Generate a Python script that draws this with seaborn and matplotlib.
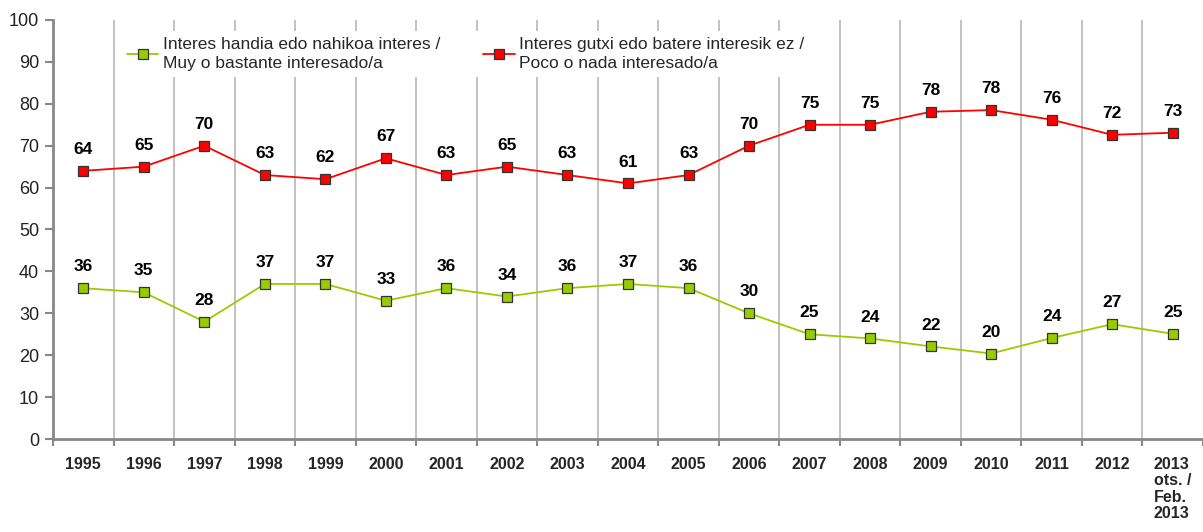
import numpy as np
import pandas as pd
import seaborn as sns
import matplotlib.pyplot as plt
from matplotlib.ticker import MultipleLocator, FixedLocator

years = ["1995", "1996", "1997", "1998", "1999", "2000", "2001", "2002", "2003",
         "2004", "2005", "2006", "2007", "2008", "2009", "2010", "2011", "2012",
         "2013\nots. /\nFeb.\n2013"]
high_interest = [36, 35, 28, 37, 37, 33, 36, 34, 36, 37, 36, 30, 25, 24, 22.1, 20.4, 24.1, 27.4, 25.1]
low_interest = [64, 65, 70, 63, 62, 67, 63, 65, 63, 61, 63, 70, 75, 75, 78.1, 78.5, 76.2, 72.6, 73.1]
high_labels = [36, 35, 28, 37, 37, 33, 36, 34, 36, 37, 36, 30, 25, 24, 22, 20, 24, 27, 25]
low_labels = [64, 65, 70, 63, 62, 67, 63, 65, 63, 61, 63, 70, 75, 75, 78, 78, 76, 72, 73]
name_high = "Interes handia edo nahikoa interes /\nMuy o bastante interesado/a"
name_low = "Interes gutxi edo batere interesik ez /\nPoco o nada interesado/a"

sns.set_theme(style="white")
plt.rcParams["font.family"] = ["Liberation Sans", "DejaVu Sans"]

df = pd.DataFrame({"pos": np.arange(len(years)), "high": high_interest, "low": low_interest})

fig = plt.figure(figsize=(12.03, 5.32), dpi=100)
ax = fig.add_axes([53 / 1203, 1 - 439 / 532, 1 - 53 / 1203, (439 - 20) / 532])

green = "#99CC00"
red = "#FF0000"
sns.lineplot(data=df, x="pos", y="high", color=green, marker="s", markersize=6.8,
             markerfacecolor=green, markeredgecolor="#333333", markeredgewidth=0.9,
             linewidth=1.3, label=name_high, ax=ax)
sns.lineplot(data=df, x="pos", y="low", color=red, marker="s", markersize=6.8,
             markerfacecolor=red, markeredgecolor="#333333", markeredgewidth=0.9,
             linewidth=1.3, label=name_low, ax=ax)

for i in range(len(years)):
    ax.annotate(str(high_labels[i]), (i, high_interest[i]), xytext=(0, 10),
                textcoords="offset points", ha="center", va="bottom",
                fontsize=12.5, fontweight="bold", color="black")
    ax.annotate(str(low_labels[i]), (i, low_interest[i]), xytext=(0, 10),
                textcoords="offset points", ha="center", va="bottom",
                fontsize=12.5, fontweight="bold", color="black")

ax.set_xlim(-0.5, len(years) - 0.5)
ax.set_ylim(0, 100)
ax.yaxis.set_major_locator(MultipleLocator(10))
ax.set_xticks(np.arange(len(years)))
ax.set_xticklabels(years, fontsize=11.5, fontweight="bold", va="top", linespacing=1.12)
ax.xaxis.set_minor_locator(FixedLocator(np.arange(-0.5, len(years), 1.0)))
ax.tick_params(axis="x", which="major", length=0, pad=13)
ax.tick_params(axis="x", which="minor", length=5, width=1.5, color="#888888", direction="out", bottom=True)
ax.tick_params(axis="y", which="major", length=6, width=1.5, color="#888888", direction="out",
               left=True, labelsize=13, labelcolor="#222222", pad=4)
last = ax.get_xticklabels()[-1]
last.set_horizontalalignment("center")
last.set_multialignment("left")

for b in np.arange(0.5, len(years) - 0.5, 1.0):
    ax.axvline(b, color="#b8b8b8", linewidth=1.2, zorder=0)

for s in ["top", "right"]:
    ax.spines[s].set_visible(False)
for s in ["left", "bottom"]:
    ax.spines[s].set_color("#888888")
    ax.spines[s].set_linewidth(2)

ax.set_xlabel("")
ax.set_ylabel("")
leg = ax.legend(loc="upper left", bbox_to_anchor=(121 / 1203, 1 - 31 / 532),
                bbox_transform=fig.transFigure, borderaxespad=0, ncol=2, frameon=True,
                fontsize=12.5, handlelength=1.8, handletextpad=0.25, columnspacing=2.5,
                borderpad=0.35)
for t in leg.get_texts():
    t.set_linespacing(1.35)
leg.get_frame().set_facecolor("white")
leg.get_frame().set_edgecolor("none")
leg.get_frame().set_alpha(1)
leg.get_frame().set_boxstyle("square", pad=0)

plt.savefig("out.png", dpi=100)
